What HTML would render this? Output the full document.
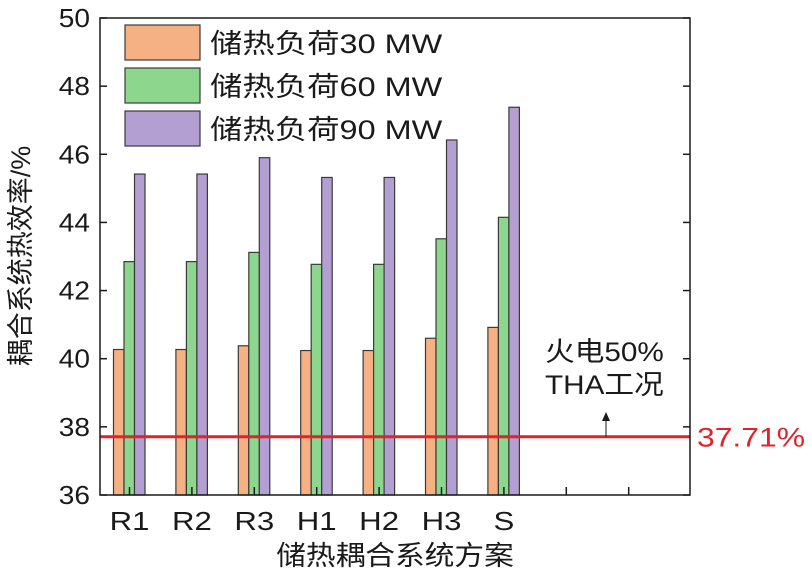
<!DOCTYPE html>
<html><head><meta charset="utf-8"><style>
body{margin:0;background:#fff}
svg text{font-family:"Liberation Sans","Noto Sans CJK SC",sans-serif;fill:#1a1a1a}
</style></head><body>
<svg id="c" width="812" height="575">
</svg>
<script>
const categories=["R1","R2","R3","H1","H2","H3","S"];
const s30=[40.27,40.27,40.38,40.24,40.24,40.6,40.92];
const s60=[42.85,42.85,43.12,42.77,42.77,43.52,44.15];
const s90=[45.42,45.42,45.9,45.32,45.32,46.42,47.38];
const yTicks=[36,38,40,42,44,46,48,50];
const refValue=37.71;
const seriesNames=["储热负荷30 MW","储热负荷60 MW","储热负荷90 MW"];
const colors=["#f5b184","#8dd68d","#b49fd3"];
const L=100,R=690,T=18,B=495;
const y=v=>B-(v-36)/14*(B-T);
const xc=i=>129.5+62.4*i;
const svg=document.getElementById('c');
const NS="http://www.w3.org/2000/svg";
function mk(t,a,txt){const e=document.createElementNS(NS,t);for(const k in a)e.setAttribute(k,a[k]);if(txt!=null)e.textContent=txt;svg.appendChild(e);return e;}
function tx(x,yy,s,fs,anchor,sx,extra){const a={transform:'translate('+x+','+yy+') scale('+sx+',1)','font-size':fs,'text-anchor':anchor||'start'};if(extra)Object.assign(a,extra);return mk('text',a,s);}
[s30,s60,s90].forEach((s,si)=>{s.forEach((v,i)=>{
 const r=mk('rect',{x:xc(i)-16+si*10.5,y:y(v),width:10.5,height:B-y(v),fill:colors[si],stroke:'#3a3a3a','stroke-width':1.2});
 
 
});});
const rl=mk('line',{x1:L,x2:R,y1:y(refValue),y2:y(refValue),stroke:'#e0222a','stroke-width':3});


const rt=tx(697,y(refValue)+10,refValue.toFixed(2)+'%',27,'start',1.18,{style:'fill:#e0222a'});


const fr=mk('rect',{x:L,y:T,width:R-L,height:B-T,fill:'none',stroke:'#1a1a1a','stroke-width':1.5});


yTicks.forEach(v=>{
 mk('line',{x1:L,x2:L+7,y1:y(v),y2:y(v),stroke:'#1a1a1a','stroke-width':1.5});
 mk('line',{x1:R,x2:R-7,y1:y(v),y2:y(v),stroke:'#1a1a1a','stroke-width':1.5});
 const t=tx(90,y(v)+9,v,26,'end',1.08);
 
 
});
for(let i=0;i<9;i++){mk('line',{x1:xc(i),x2:xc(i),y1:B,y2:B-8,stroke:'#1a1a1a','stroke-width':1.5});}
categories.forEach((c,i)=>{const t=tx(xc(i),530,c,26,'middle',1.2);
 
 });
seriesNames.forEach((n,i)=>{
 const r=mk('rect',{x:125,y:25+i*43,width:75,height:35,fill:colors[i],stroke:'#3a3a3a','stroke-width':1.2});
 
 
 const t=tx(210,53+i*43,n,27,'start',1.2);
 
 
});
const a1=tx(545,361,'火电50%',27,'start',1.1);


const a2=tx(545,394,'THA工况',27,'start',1.1);


mk('line',{x1:606,x2:606,y1:y(refValue),y2:418,stroke:'#1a1a1a','stroke-width':1});
mk('path',{d:'M602,421 L606,412 L610,421 Z',fill:'#1a1a1a'});
const yt=mk('text',{transform:'translate(30,256) rotate(-90)','font-size':27,'text-anchor':'middle'},'耦合系统热效率/%');


const xt=tx(395,565,'储热耦合系统方案',27,'middle',1.1);


</script>
</body></html>
